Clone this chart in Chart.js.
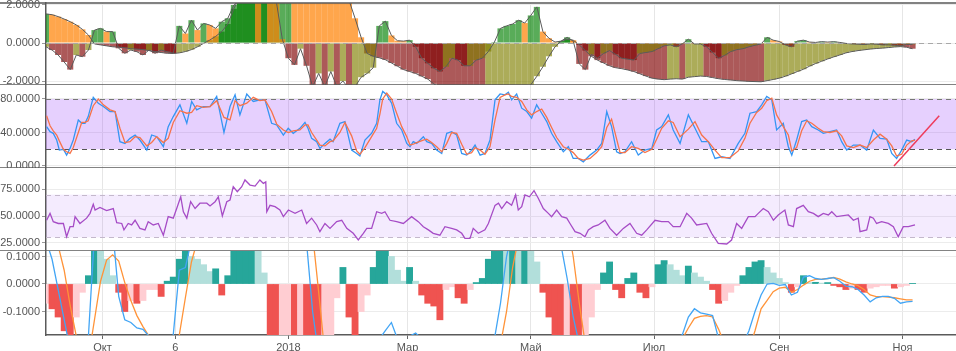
<!DOCTYPE html>
<html><head><meta charset="utf-8">
<script src="https://cdn.jsdelivr.net/npm/chart.js@4.4.0/dist/chart.umd.min.js"></script>
<style>
html,body{margin:0;padding:0;background:#fff;width:956px;height:351px;overflow:hidden;position:relative}
.panel{position:absolute;left:0;width:956px;overflow:hidden}
.panel canvas{position:absolute;left:0}
</style></head><body>
<div class="panel" style="top:0;height:85px"><canvas id="c1" width="956" height="122" style="top:-17px"></canvas></div>
<div class="panel" style="top:85px;height:83px"><canvas id="c2" width="956" height="123" style="top:-20px"></canvas></div>
<div class="panel" style="top:168px;height:83px"><canvas id="c3" width="956" height="123" style="top:-20px"></canvas></div>
<div class="panel" style="top:251px;height:100px"><canvas id="c4" width="956" height="120" style="top:-20px"></canvas></div>
<script>
// ---------- data (x unit = days since 2017-09-03) ----------
const STEP_DAYS = 3;
const X_MAX_DAY = 450.5;
const tickDays = [28, 64, 120, 179, 240, 301, 363, 424];
const tickLabels = ['Окт', '6', '2018', 'Мар', 'Май', 'Июл', 'Сен', 'Ноя'];

// panel 1: slow oscillator (area) and fast oscillator (histogram)
const slowVals = [1.53,1.49,1.39,1.26,1.12,0.95,0.72,0.42,-0.05,-0.1,
 -0.15,-0.2,-0.22,-0.25,-0.3,-0.32,-0.35,-0.4,-0.45,-0.5,
 -0.54,-0.55,-0.52,-0.45,-0.35,-0.2,-0.02,0.15,0.35,0.6,
 1.0,1.8,2.5,2.9,3.2,3.5,3.7,3.85,3.95,4.0,
 4.05,4.0,3.95,3.85,3.75,3.6,3.45,3.3,3.1,2.8,
 2.25,1.3,0.3,-0.55,-0.7,-0.78,-0.88,-1.05,-1.22,-1.4,
 -1.5,-1.6,-1.75,-1.9,-2.15,-2.35,-2.5,-2.65,-2.8,-2.9,
 -3.0,-3.05,-3.1,-3.1,-3.05,-2.95,-2.85,-2.7,-2.55,-2.38,
 -2.2,-1.75,-1.25,-0.7,-0.2,0.1,0.2,0.15,-0.1,-0.4,
 -0.7,-0.9,-1.05,-1.2,-1.3,-1.35,-1.42,-1.5,-1.62,-1.74,
 -1.85,-1.9,-1.93,-1.9,-1.88,-1.9,-1.8,-1.77,-1.74,-1.76,
 -1.82,-1.88,-1.92,-1.95,-1.98,-2.0,-2.02,-2.03,-2.04,-1.98,
 -1.92,-1.85,-1.75,-1.63,-1.5,-1.38,-1.22,-1.08,-0.96,-0.84,
 -0.73,-0.63,-0.52,-0.45,-0.4,-0.36,-0.32,-0.29,-0.27,-0.24,
 -0.21,-0.19,-0.22,-0.3];
const fastVals = [-0.2,-0.37,-0.63,-1.0,-1.4,-0.63,-0.72,-0.37,0.68,0.77,
 0.6,0.6,-0.28,-0.54,-0.37,-0.46,-0.63,-0.37,-0.54,-0.37,
 -0.46,-0.54,0.9,0.5,1.2,0.68,1.03,0.95,0.77,1.12,
 1.3,2.0,2.3,2.5,2.6,2.5,2.6,2.4,2.2,0.2,
 -0.8,-1.15,-0.3,-1.2,-2.3,-1.6,-2.3,-1.5,-2.3,-2.0,
 -2.4,-2.3,-1.8,-1.6,-1.3,0.9,1.15,0.4,0.12,0.1,
 0.15,-0.2,-0.8,-1.07,-1.33,-1.5,-1.25,-0.8,-0.9,-1.2,
 -1.2,-0.9,-0.8,-0.45,0.05,0.77,0.9,1.0,1.2,1.05,
 1.45,1.9,0.6,0.25,0.05,0.1,0.3,0.1,-1.1,-1.4,
 -0.6,-0.8,-0.55,-0.4,-0.6,-0.8,-0.85,-0.9,-0.55,-0.5,
 -0.45,-0.3,-0.15,-0.1,-0.2,-0.05,0.2,-0.05,-0.05,-0.2,
 -0.5,-0.8,-0.65,-0.45,-0.35,-0.3,-0.2,-0.12,-0.05,0.3,
 0.15,0.08,-0.1,-0.2,0.1,0.15,0.05,0.03,0.07,0.05,
 0.07,0.03,-0.02,-0.05,-0.06,-0.08,-0.05,-0.06,-0.1,-0.1,
 -0.12,-0.15,-0.08,-0.07];

// panel 2: stochastic RSI
const stochDays = [0.3,2,3.6,5.3,6.6,8.6,10.2,11.9,13.5,16,
 17.7,19.3,20.9,23.4,25.9,28.4,31.7,34.2,36.6,39.1,
 41.6,44.1,46.5,49.9,52.3,54.8,58.1,60.5,63,66.3,
 69.7,72.1,74.6,77.9,81.2,84.5,88.1,91.1,93.6,96,
 99.4,102.6,105.9,108.4,111.7,114.2,117.5,119.9,122.4,125.7,
 128.2,129.7,131.5,134,135.6,138.1,140.6,142.1,145.5,148,
 151.3,153.8,155.4,157.9,161.2,163.7,165.3,166.7,168.7,171.1,
 173.6,176.1,178.6,180.2,181.8,183.5,186.8,188.5,190.9,193.4,
 195.9,198.4,200.8,203.3,205.8,208.3,210.7,212.4,214.9,217.3,
 219.8,222.3,224.8,227.2,228.9,230.5,233,235.5,238,240.4,
 242.9,245.4,247.9,250.3,252.8,256.1,258.6,261,263.5,266,
 269.3,272.6,275.1,277.6,280,282.5,284.2,286.6,289.9,293.2,
 296.5,299.9,302.3,304.8,308.1,310.5,313.9,318,321.3,324.6,
 327.9,331.2,334.5,338.6,342.7,346,348.5,351.8,354.3,356.8,
 359.3,361.7,365,367.5,369.2,371.6,374.1,376.6,379.1,382.3,
 384.8,388.1,391.4,393.9,396.4,399.7,403,406.3,409.6,412.9,
 416.2,418.7,421.1,423.6,426.1,428.6,430.2];
const stochK = [47,41,39,31,19,20,13,21,31,55,
 51,51,59,82,75,71,65,65,29,27,
 33,37,31,19,37,35,23,47,59,73,
 51,77,67,71,71,83,40,71,85,61,
 86,77,79,79,51,49,37,45,39,45,
 52,45,33,29,21,27,32,29,51,53,
 19,15,12,31,39,51,79,89,85,75,
 51,43,27,23,29,27,35,29,27,19,
 15,39,41,37,15,13,19,25,13,15,
 31,79,86,85,88,79,86,69,65,57,
 73,63,53,39,29,17,23,9,9,5,
 13,19,27,65,47,17,15,17,29,13,
 19,21,43,47,61,43,27,61,45,29,
 29,9,11,9,27,39,63,65,73,83,
 79,43,51,23,13,31,53,55,47,43,
 39,41,43,29,19,25,25,19,43,33,
 32,15,9,19,31,29,32];
const stochD = [60,48,42,37,30,20,17,15,22,40,
 52,52,54,72,80,73,67,65,45,28,
 29,35,34,24,28,35,28,33,52,66,
 63,64,72,70,71,78,58,55,78,72,
 75,82,78,79,65,50,43,40,42,43,
 49,49,40,31,25,24,29,30,40,52,
 36,18,14,22,35,45,62,80,87,80,
 63,47,35,25,26,28,31,32,28,23,
 17,27,40,39,26,14,16,22,19,14,
 23,55,82,85,86,83,82,77,67,61,
 65,68,58,46,34,23,20,16,9,7,
 9,16,23,46,56,32,16,16,23,21,
 16,20,32,45,54,52,35,44,53,37,
 29,19,10,10,18,33,51,64,69,78,
 81,61,47,37,18,22,42,54,51,45,
 41,40,42,36,24,22,25,22,31,38,
 32,24,12,14,25,30,31];
const trendDays = [419.8, 442.2];
const trendVals = [0, 60];

// panel 3: RSI
const rsiDays = [0.3,2,3.6,6.1,8.6,10.2,11.9,13.5,14.4,16.8,
 20.1,21.8,23.4,24.3,26.7,30,33.3,35,37.5,38.6,
 40.7,42.4,44.1,46.5,49,50.6,53.1,55.6,58.1,60.5,
 63,64.7,66.7,68,69.7,71.6,73.8,76.2,79.6,81.2,
 83.7,85.3,87.3,89.5,91.1,92.7,94.7,96.9,98.5,101,
 103.5,105.9,107.6,108.8,109.3,110.9,113.4,115.8,117.5,120,
 123.3,126.6,129,131.5,134,135.6,138.1,140.6,143.9,146.4,
 148.9,152.1,154.6,157.1,158.8,161.2,163.7,166.2,167.8,170.3,
 173.6,176.9,181,184.3,186.8,189.3,191.7,195,197.5,200.8,
 203.3,205.8,207.4,209.9,211.5,214,217.3,219,222.3,224,
 225.6,228.1,230.5,232.5,233.8,235.5,237.1,239.3,241.6,243.7,
 246.2,248.7,250.3,252.8,255.3,257.8,259.4,261.9,264.4,266.8,
 268.5,270.9,273.4,276.7,279.2,282.5,285.8,289.1,292.4,294.9,
 297.4,301.5,304.8,308.1,310.5,313.9,317.2,319.6,322.1,327.1,
 329.5,332.8,337,339.4,341.9,344.4,347.7,351,352.6,355.1,
 357.6,360.1,362.5,365.8,367.5,370,371.6,374.9,377.4,379.9,
 382.3,384.8,387.3,389,391.4,397.2,399.7,402.1,403,406.3,
 407.9,409.6,411.2,413.7,417,419.5,421.9,424.4,426.9,430.2];
const rsiVals = [46,52.5,44.7,43,43,30.6,40,40,49.4,43,
 48,52.5,61,55.6,58,55,57,43.8,43,37,
 43,41.6,46,38.4,37,44.7,41.6,43,32,49.4,
 48,57,68,54,48,63.4,57,62,62,59.4,
 63.4,68,50,63.4,65,77.5,72.8,77.5,83.8,79,
 78,83.8,80.6,82,54,60,58.8,55.6,49.4,55.6,
 52.5,55.6,43,48,41.6,35.3,43,38.4,44.7,46,
 38.4,33.8,27.5,33.8,38.4,38.4,54,52.5,54,46,
 44.7,43,49.4,44.7,40,37,33.8,32,40,38.4,
 37,33.8,29,29,38.4,33.8,37,43,60,62,
 57,63.4,60,69.7,55.6,58.8,69.7,68,73.8,66.6,
 57,52.5,49.4,55.6,49.4,48,43,35.3,33.8,30.6,
 37,40,41.6,46,38.4,32,38.4,43,33.8,32,
 37,46,44.7,44.7,40,40,52.5,48,41.6,43,
 33.8,24.4,23.8,27.5,43,38.4,49.4,49.4,52.5,57,
 54,46,51,55.6,41.6,40,57,60,54,52.5,
 49.4,52.5,51,54,49.4,51,46,48,35.3,37,
 49.4,48,43,44.7,43,40,30.6,40,40,41.6];

// panel 4: MACD histogram + lines
const histVals = [-0.07,-0.09,-0.12,-0.17,-0.22,-0.12,-0.03,0.03,0.15,0.13,
 0.09,0.03,-0.03,-0.1,-0.06,-0.07,-0.06,-0.02,-0.02,-0.045,
 0.01,0.025,0.09,0.15,0.1,0.09,0.07,0.045,0.055,-0.04,
 0.03,0.14,0.15,0.16,0.17,0.12,0.04,-0.25,-0.32,-0.3,
 -0.28,-0.3,-0.28,-0.31,-0.33,-0.34,-0.3,-0.19,-0.05,0.06,
 -0.12,-0.22,-0.1,-0.04,0.06,0.15,0.16,0.1,0.05,0.01,
 0.06,0.01,-0.04,-0.07,-0.08,-0.13,-0.02,-0.01,-0.05,-0.07,
 -0.02,0.005,0.02,0.09,0.15,0.17,0.16,0.18,0.16,0.17,
 0.13,0.08,-0.03,-0.12,-0.2,-0.25,-0.23,-0.27,-0.3,-0.22,
 -0.12,-0.02,0.04,0.08,-0.02,-0.05,0.02,0.04,-0.03,-0.05,
 -0.01,0.07,0.085,0.07,0.05,0.03,0.065,0.04,0.025,0.01,
 -0.02,-0.07,-0.06,-0.03,-0.005,0.03,0.06,0.08,0.085,0.06,
 0.04,0.02,0.005,-0.03,-0.01,0.03,0.005,0.006,0.003,0.005,
 -0.005,-0.01,-0.02,-0.015,-0.02,-0.03,-0.015,-0.01,-0.005,-0.005,
 -0.015,-0.01,-0.005,0.002];
const macdVals = [0.16,0.09,-0.02,-0.13,-0.24,-0.3,-0.28,-0.19,0.18,0.25,
 0.27,0.2,-0.045,-0.13,-0.14,-0.16,-0.165,-0.19,-0.2,-0.22,
 -0.25,-0.185,0.05,0.06,0.16,0.22,0.27,0.3,0.32,0.34,
 0.36,0.38,0.4,0.42,0.43,0.43,0.42,0.4,0.38,0.36,
 0.33,0.3,0.25,0.15,-0.1,-0.26,-0.32,-0.36,-0.35,-0.33,
 -0.3,-0.28,-0.26,-0.24,-0.22,-0.2,-0.17,-0.14,-0.2,-0.21,
 -0.19,-0.178,-0.2,-0.24,-0.27,-0.3,-0.32,-0.33,-0.32,-0.3,
 -0.28,-0.26,-0.24,-0.22,-0.2,-0.07,0.1,0.2,0.27,0.3,
 0.32,0.3,0.28,0.24,0.2,0.14,0.02,-0.12,-0.22,-0.3,
 -0.34,-0.36,-0.37,-0.37,-0.36,-0.35,-0.33,-0.31,-0.29,-0.27,
 -0.25,-0.23,-0.215,-0.205,-0.195,-0.185,-0.12,-0.09,-0.105,-0.11,
 -0.115,-0.2,-0.27,-0.3,-0.28,-0.22,-0.17,-0.1,-0.04,0.0,
 0.002,-0.005,-0.002,-0.04,-0.03,0.025,0.03,0.02,0.017,0.02,
 0.023,0.01,-0.008,-0.01,-0.02,-0.04,-0.065,-0.05,-0.045,-0.045,
 -0.052,-0.07,-0.065,-0.063];
const signalVals = [0.3,0.22,0.14,0.05,-0.08,-0.19,-0.25,-0.27,-0.13,0.01,
 0.087,0.106,0.083,0.005,-0.06,-0.115,-0.155,-0.19,-0.21,-0.23,
 -0.24,-0.24,-0.185,-0.05,0.08,0.16,0.24,0.27,0.3,0.32,
 0.34,0.35,0.37,0.38,0.39,0.39,0.39,0.39,0.38,0.37,
 0.35,0.33,0.3,0.25,0.18,-0.03,-0.25,-0.32,-0.36,-0.38,
 -0.4,-0.4,-0.39,-0.38,-0.37,-0.35,-0.33,-0.31,-0.3,-0.3,
 -0.29,-0.29,-0.29,-0.3,-0.31,-0.32,-0.33,-0.34,-0.34,-0.33,
 -0.32,-0.31,-0.3,-0.28,-0.26,-0.22,-0.1,0.06,0.17,0.22,
 0.26,0.28,0.3,0.3,0.28,0.26,0.22,0.1,-0.07,-0.22,
 -0.28,-0.3,-0.31,-0.31,-0.3,-0.3,-0.3,-0.29,-0.29,-0.28,
 -0.27,-0.26,-0.25,-0.24,-0.22,-0.2,-0.16,-0.125,-0.118,-0.115,
 -0.12,-0.165,-0.22,-0.26,-0.28,-0.27,-0.24,-0.17,-0.09,-0.06,
 -0.028,-0.015,-0.012,-0.03,-0.02,-0.004,0.01,0.017,0.018,0.02,
 0.024,0.018,0.008,0.0,-0.006,-0.02,-0.04,-0.046,-0.046,-0.048,
 -0.05,-0.054,-0.058,-0.058];

// ---------- helpers ----------
const gridDays = slowVals.map((_, i) => i * STEP_DAYS);
const pts = (xs, ys) => ys.map((y, i) => ({x: xs[i], y}));
function stateColors(vals, c) {
  return vals.map((v, i) => {
    const p = i > 0 ? vals[i - 1] : v;
    if (v >= 0) return v >= p ? c.upRise : c.upFall;
    return v < p ? c.dnFall : c.dnRise;
  });
}
const P1C = {upRise:'rgba(0,128,0,0.65)', upFall:'rgba(255,128,0,0.7)', dnFall:'rgba(128,0,0,0.65)', dnRise:'rgba(128,128,0,0.65)'};
const P4C = {upRise:'#26A69A', upFall:'#B2DFDB', dnFall:'#EF5350', dnRise:'#FFCDD2'};

Chart.defaults.font.family = "'Liberation Sans', Arial, sans-serif";
Chart.defaults.font.size = 11;
Chart.defaults.color = '#555';

const decor = {
  id: 'decor',
  beforeDatasetsDraw(chart, args, o) {
    const {ctx, chartArea: a, scales: {y}} = chart;
    ctx.save();
    (o.bands || []).forEach(b => {
      const y1 = y.getPixelForValue(b.to), y2 = y.getPixelForValue(b.from);
      ctx.fillStyle = b.color;
      ctx.fillRect(a.left, y1, a.right - a.left, y2 - y1);
    });
    (o.under || []).forEach(l => drawH(ctx, a, y, l));
    ctx.restore();
  },
  afterDatasetsDraw(chart, args, o) {
    const {ctx, chartArea: a, scales: {y}} = chart;
    ctx.save();
    (o.over || []).forEach(l => drawH(ctx, a, y, l));
    ctx.restore();
  },
  afterDraw(chart, args, o) {
    const {ctx, chartArea: a, width} = chart;
    ctx.save();
    ctx.strokeStyle = '#5a5a5a';
    ctx.lineWidth = 1.5;
    ctx.beginPath();
    if (o.top) { ctx.moveTo(0, a.top); ctx.lineTo(width, a.top); }
    if (o.bottom) { ctx.moveTo(0, a.bottom); ctx.lineTo(width, a.bottom); }
    ctx.stroke();
    ctx.restore();
  }
};
function drawH(ctx, a, y, l) {
  const py = Math.round(y.getPixelForValue(l.value)) + 0.5;
  ctx.strokeStyle = l.color;
  ctx.lineWidth = l.width || 1;
  ctx.setLineDash(l.dash || []);
  ctx.beginPath();
  ctx.moveTo(a.left, py);
  ctx.lineTo(a.right, py);
  ctx.stroke();
  ctx.setLineDash([]);
}
Chart.register(decor);

function opts(p) {
  return {
    responsive: false, animation: false, events: [],
    layout: {padding: {top: p.padTop, bottom: p.padBottom, left: 0, right: 0}},
    plugins: {legend: {display: false}, tooltip: {enabled: false}, decor: p.decor},
    scales: {
      x: {
        type: 'linear', min: 0, max: X_MAX_DAY, offset: false,
        afterBuildTicks: s => { s.ticks = tickDays.map(v => ({value: v})); },
        afterFit: s => { s.height = p.showX ? 16 : 0; },
        ticks: {display: p.showX, autoSkip: false, maxRotation: 0, padding: 2,
                callback: (v, i) => tickLabels[i], color: '#555'},
        grid: {offset: false, color: '#e6e6e6', drawTicks: p.showX, tickLength: 4, tickColor: '#666'},
        border: {display: p.showX, color: '#5a5a5a', width: 1.5}
      },
      y: {
        min: p.yMin, max: p.yMax,
        afterBuildTicks: s => { s.ticks = p.yTicks.map(v => ({value: v})); },
        afterFit: s => { s.width = 46; },
        ticks: {callback: v => Number(v).toFixed(4), padding: 2, color: '#555'},
        grid: {color: '#ececec', tickLength: 4, tickColor: '#999'},
        border: {color: '#5a5a5a', width: 1.5}
      }
    }
  };
}
const lineDs = (data, color, width, order, extra) => Object.assign({
  type: 'line', data, borderColor: color, borderWidth: width, pointRadius: 0,
  tension: 0, fill: false, clip: 0, order
}, extra || {});
const barDs = (data, colors, order) => ({
  type: 'bar', data, backgroundColor: colors, borderWidth: 0, grouped: false,
  barPercentage: 1, categoryPercentage: 1, inflateAmount: 0, clip: 0, order
});

// ---------- panel 1 ----------
new Chart(document.getElementById('c1'), {
  type: 'bar',
  data: {datasets: [
    lineDs(pts(gridDays, slowVals), '#5a5a5a', 1, 0),
    lineDs(pts(gridDays, fastVals), '#5a5a5a', 1, 0),
    barDs(pts(gridDays, fastVals), stateColors(fastVals, P1C), 1),
    barDs(pts(gridDays, slowVals), stateColors(slowVals, P1C), 2)
  ]},
  options: opts({padTop: 20, padBottom: 20, yMin: -2.21, yMax: 2.105, yTicks: [-2, 0, 2], showX: false,
    decor: {top: true, bottom: true, over: [{value: 0, color: '#a8a8a8', dash: [5, 4], width: 1.2}]}})
});

// ---------- panel 2 ----------
new Chart(document.getElementById('c2'), {
  type: 'line',
  data: {datasets: [
    lineDs(pts(trendDays, trendVals), '#EE3B5B', 1.5, 0),
    lineDs(pts(stochDays, stochD), '#F7734A', 1.3, 1),
    lineDs(pts(stochDays, stochK), '#3595F3', 1.3, 2)
  ]},
  options: opts({padTop: 20, padBottom: 20, yMin: -2.39, yMax: 96.7, yTicks: [0, 40, 80], showX: false,
    decor: {bottom: true, bands: [{from: 20, to: 80, color: 'rgba(150,60,250,0.24)'}],
      under: [{value: 80, color: '#777', dash: [5, 4]}, {value: 20, color: '#555', dash: [5, 4]}]}})
});

// ---------- panel 3 ----------
new Chart(document.getElementById('c3'), {
  type: 'line',
  data: {datasets: [
    lineDs(pts(rsiDays, rsiVals), '#A64CC6', 1.3, 0)
  ]},
  options: opts({padTop: 20, padBottom: 20, yMin: 17.2, yMax: 95, yTicks: [25, 50, 75], showX: false,
    decor: {bottom: true, bands: [{from: 30, to: 70, color: 'rgba(150,60,250,0.1)'}],
      under: [{value: 70, color: '#c4b8cc', dash: [5, 4]}, {value: 30, color: '#c4b8cc', dash: [5, 4]}]}})
});

// ---------- panel 4 ----------
new Chart(document.getElementById('c4'), {
  type: 'bar',
  data: {datasets: [
    lineDs(pts(gridDays, macdVals), '#42A5F5', 1.3, 0),
    lineDs(pts(gridDays, signalVals), '#FF9338', 1.3, 0),
    Object.assign(barDs(pts(gridDays, histVals), stateColors(histVals, P4C), 1), {inflateAmount: 0.4})
  ]},
  options: opts({padTop: 20, padBottom: 0, yMin: -0.1855, yMax: 0.12, yTicks: [-0.1, 0, 0.1], showX: true,
    decor: {}})
});
</script>
</body></html>
